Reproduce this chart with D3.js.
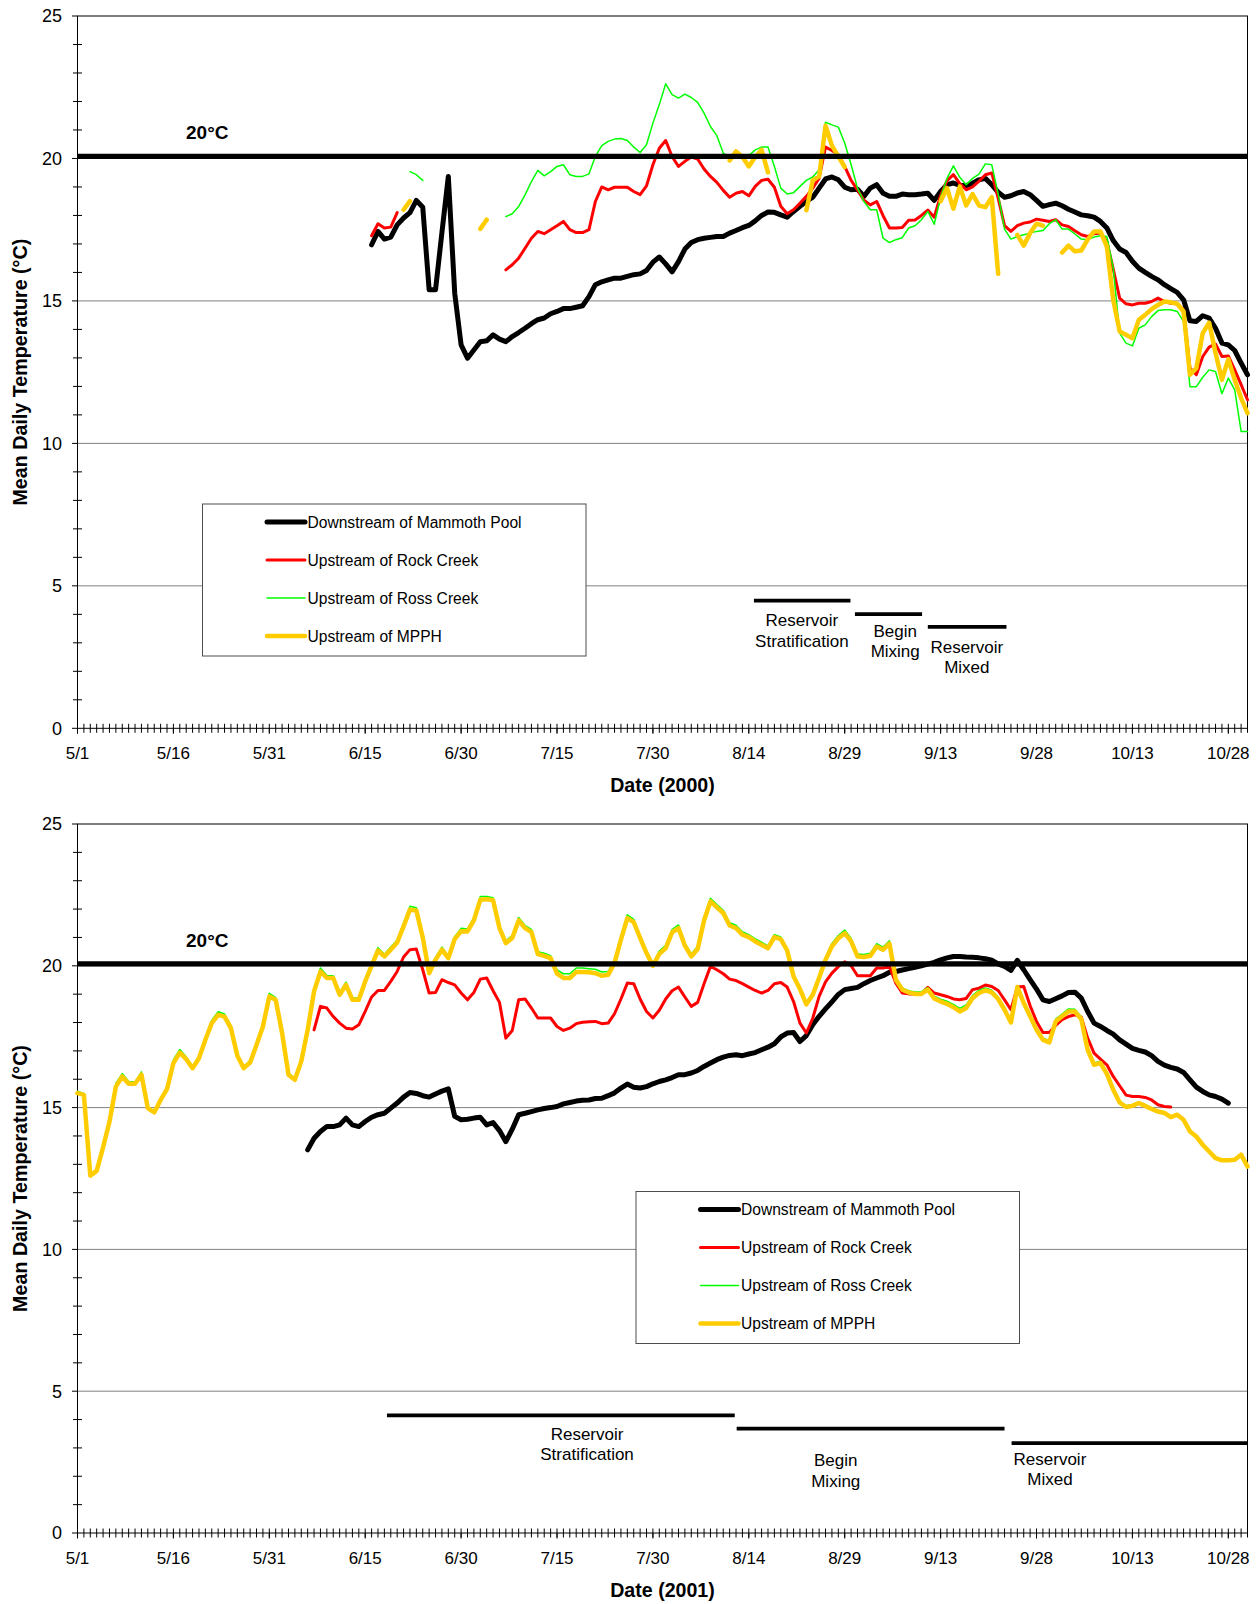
<!DOCTYPE html>
<html>
<head>
<meta charset="utf-8">
<script src="https://cdn.jsdelivr.net/npm/d3@7"></script>
<style>
  body { margin: 0; background: #fff; }
  svg { display: block; }
  text { font-family: "Liberation Sans", Arial, sans-serif; fill: #000; }
</style>
</head>
<body>
<svg id="chart" width="1260" height="1604"></svg>
<script>
// ---------------------------------------------------------------------------
// Mean daily water temperature, San Joaquin River reach, 2000 and 2001.
// Each series is a list of runs: [first date, daily values]. Gaps between
// runs are days with no record.
// ---------------------------------------------------------------------------

const SERIES_NAMES = ["Downstream of Mammoth Pool", "Upstream of Rock Creek",
                      "Upstream of Ross Creek", "Upstream of MPPH"];
const X_TICK_LABELS = ["5/1", "5/16", "5/31", "6/15", "6/30", "7/15", "7/30",
                       "8/14", "8/29", "9/13", "9/28", "10/13", "10/28"];
const Y_TICKS = [0, 5, 10, 15, 20, 25];
const THRESHOLD = 20.07;
const THRESHOLD_LABEL = "20°C";
const PHASE_NAMES = [["Reservoir", "Stratification"], ["Begin", "Mixing"], ["Reservoir", "Mixed"]];

// ---- 2000 ----
const mammoth2000 = [
  ["2000-06-16", [16.97, 17.44, 17.17, 17.24, 17.67, 17.91, 18.10, 18.53, 18.29, 15.39,
    15.39, 17.4, 19.37, 15.27, 13.46, 12.99, 13.28, 13.57, 13.6, 13.81,
    13.66, 13.57, 13.75, 13.89, 14.04, 14.2, 14.34, 14.4, 14.55, 14.63,
    14.73, 14.73, 14.78, 14.83, 15.15, 15.57, 15.67, 15.74, 15.8, 15.8,
    15.86, 15.92, 15.95, 16.07, 16.36, 16.54, 16.3, 16.02, 16.38, 16.82,
    17.05, 17.15, 17.2, 17.23, 17.26, 17.26, 17.38, 17.47, 17.57, 17.65,
    17.81, 18.0, 18.12, 18.11, 18.02, 17.94, 18.14, 18.32, 18.49, 18.64,
    18.96, 19.28, 19.35, 19.25, 18.99, 18.9, 18.92, 18.67, 18.96, 19.08,
    18.78, 18.67, 18.67, 18.75, 18.73, 18.73, 18.75, 18.78, 18.53, 18.84,
    19.08, 19.14, 19.05, 19.05, 19.13, 19.25, 19.3, 19.08, 18.81, 18.64,
    18.69, 18.79, 18.84, 18.73, 18.53, 18.32, 18.38, 18.43, 18.34, 18.22,
    18.12, 18.02, 17.99, 17.94, 17.79, 17.56, 17.12, 16.82, 16.7, 16.39,
    16.15, 16.0, 15.86, 15.74, 15.57, 15.43, 15.3, 15.04, 14.3, 14.28,
    14.48, 14.4, 14.04, 13.52, 13.46, 13.26, 12.82, 12.41]]
];
const rock2000 = [
  ["2000-06-16", [17.29, 17.71, 17.56, 17.59, 18.1]],
  ["2000-07-07", [16.09, 16.27, 16.5, 16.85, 17.2, 17.44, 17.36, 17.5, 17.64, 17.79,
    17.5, 17.4, 17.4, 17.5, 18.49, 19.0, 18.9, 18.99, 18.99, 18.99,
    18.84, 18.73, 19.04, 19.78, 20.36, 20.63, 20.07, 19.72, 19.9, 20.05,
    19.98, 19.63, 19.37, 19.16, 18.88, 18.64, 18.78, 18.84, 18.69, 19.02,
    19.23, 19.27, 18.99, 18.32, 18.06, 18.2, 18.43, 18.67, 18.96, 19.31,
    20.4, 20.28, 20.13, 19.72, 19.23, 18.9, 18.53, 18.37, 18.49, 17.99,
    17.56, 17.56, 17.58, 17.83, 17.84, 18.0, 18.19, 17.94, 18.7, 19.22,
    19.43, 19.12, 18.9, 19.0, 19.2, 19.43, 19.49, 18.61, 17.64, 17.44,
    17.64, 17.73, 17.77, 17.87, 17.83, 17.79, 17.85, 17.67, 17.61, 17.46,
    17.32, 17.26, 17.36, 17.38, 17.09, 16.12, 15.1, 14.9, 14.86, 14.92,
    14.92, 14.98, 15.1, 14.98, 14.92, 14.9, 14.69, 12.64, 12.41, 13.05,
    13.38, 13.49, 13.05, 13.07, 12.58, 12.06, 11.53]]
];
const ross2000 = [
  ["2000-06-22", [19.54, 19.43, 19.23]],
  ["2000-07-07", [17.96, 18.06, 18.31, 18.72, 19.19, 19.58, 19.39, 19.54, 19.72, 19.78,
    19.43, 19.37, 19.37, 19.46, 20.07, 20.45, 20.6, 20.68, 20.7, 20.63,
    20.4, 20.21, 20.48, 21.24, 21.89, 22.62, 22.24, 22.12, 22.26, 22.14,
    21.97, 21.59, 21.12, 20.8, 20.19, 20.05, 20.05, 20.0, 20.1, 20.3,
    20.4, 20.4, 19.72, 18.96, 18.75, 18.8, 19.02, 19.23, 19.35, 19.6,
    21.27, 21.18, 21.1, 20.54, 19.78, 18.96, 18.49, 18.2, 18.2, 17.2,
    17.05, 17.15, 17.22, 17.56, 17.64, 17.85, 18.14, 17.69, 18.64, 19.3,
    19.74, 19.34, 19.08, 19.3, 19.45, 19.81, 19.78, 18.76, 17.52, 17.17,
    17.26, 17.32, 17.38, 17.44, 17.47, 17.71, 17.85, 17.52, 17.52, 17.35,
    17.17, 17.15, 17.24, 17.29, 17.26, 16.15, 13.87, 13.52, 13.42, 14.04,
    14.16, 14.45, 14.66, 14.69, 14.69, 14.63, 14.28, 11.99, 11.99, 12.32,
    12.58, 12.52, 11.74, 12.29, 11.88, 10.42, 10.42]]
];
const mpph2000 = [
  ["2000-06-21", [18.2, 18.5]],
  ["2000-07-03", [17.53, 17.85]],
  ["2000-08-11", [19.93, 20.25, 20.05, 19.72, 20.05, 20.3, 19.51]],
  ["2000-08-23", [18.18, 19.23, 19.37, 21.15, 20.45, 20.07, 19.7]],
  ["2000-09-13", [18.5, 18.96, 18.24, 19.02, 18.35, 18.75, 18.35, 18.29, 18.64, 15.95]],
  ["2000-09-25", [17.32, 16.94, 17.38, 17.71, 17.64]],
  ["2000-10-02", [16.7, 16.94, 16.74, 16.77, 17.15, 17.44, 17.44, 16.91, 15.04, 13.93,
    13.81, 13.69, 14.34, 14.51, 14.71, 14.86, 14.98, 14.95, 14.9, 14.63,
    12.41, 12.64, 13.87, 14.24, 13.17, 12.23, 12.96, 12.23, 11.59, 11.06]]
];
// Reservoir phases: [first day, last day (days after 5/1), level °C]
const phases2000 = [[105.8, 120.9, 4.48], [121.6, 132.1, 4.01], [133.0, 145.3, 3.56]];
// Phase caption anchors: [day, level of first text line]
const phaseLabels2000 = [[113.3, 3.59], [127.9, 3.22], [139.1, 2.65]];

// ---- 2001 ----
const mammoth2001 = [
  ["2001-06-06", [13.51, 13.92, 14.16, 14.33, 14.33, 14.39, 14.63, 14.39, 14.33, 14.51,
    14.66, 14.75, 14.8, 14.98, 15.16, 15.37, 15.53, 15.5, 15.42, 15.37,
    15.48, 15.58, 15.66, 14.69, 14.57, 14.59, 14.63, 14.66, 14.39, 14.47,
    14.19, 13.8, 14.24, 14.75, 14.8, 14.86, 14.92, 14.97, 15.0, 15.04,
    15.13, 15.18, 15.23, 15.26, 15.27, 15.32, 15.33, 15.42, 15.52, 15.69,
    15.83, 15.72, 15.69, 15.74, 15.84, 15.92, 15.98, 16.06, 16.16, 16.16,
    16.22, 16.31, 16.45, 16.57, 16.69, 16.78, 16.84, 16.86, 16.83, 16.89,
    16.94, 17.04, 17.13, 17.25, 17.49, 17.63, 17.65, 17.33, 17.54, 17.92,
    18.22, 18.48, 18.73, 18.99, 19.16, 19.2, 19.24, 19.37, 19.48, 19.57,
    19.65, 19.77, 19.8, 19.85, 19.9, 19.95, 20.0, 20.06, 20.12, 20.21,
    20.28, 20.33, 20.33, 20.31, 20.3, 20.28, 20.25, 20.2, 20.07, 19.98,
    19.84, 20.19, 19.86, 19.51, 19.18, 18.8, 18.74, 18.84, 18.94, 19.06,
    19.07, 18.86, 18.39, 17.98, 17.86, 17.72, 17.59, 17.39, 17.24, 17.09,
    17.02, 16.96, 16.83, 16.63, 16.5, 16.42, 16.36, 16.24, 15.98, 15.72,
    15.57, 15.45, 15.39, 15.3, 15.16]]
];
const rock2001 = [
  ["2001-06-07", [17.74, 18.57, 18.51, 18.21, 17.98, 17.8, 17.77, 17.92, 18.39, 18.9,
    19.13, 19.13, 19.45, 19.8, 20.31, 20.57, 20.59, 19.86, 19.04, 19.06,
    19.51, 19.41, 19.33, 19.04, 18.8, 19.06, 19.53, 19.57, 19.12, 18.71,
    17.45, 17.72, 18.8, 18.83, 18.51, 18.16, 18.16, 18.16, 17.86, 17.72,
    17.8, 17.96, 18.01, 18.03, 18.04, 17.96, 17.98, 18.31, 18.83, 19.39,
    19.37, 18.83, 18.39, 18.16, 18.43, 18.83, 19.12, 19.25, 18.9, 18.57,
    18.71, 19.37, 19.98, 19.86, 19.72, 19.53, 19.48, 19.37, 19.25, 19.13,
    19.04, 19.13, 19.37, 19.41, 19.25, 18.74, 17.98, 17.63, 18.15, 18.92,
    19.43, 19.74, 19.97, 20.14, 20.0, 19.65, 19.65, 19.65, 19.92, 19.92,
    19.98, 19.39, 19.04, 19.01, 19.01, 19.01, 19.24, 19.04, 18.98, 18.92,
    18.83, 18.8, 18.85, 19.16, 19.21, 19.32, 19.27, 19.13, 18.8, 18.45,
    19.25, 19.27, 18.59, 18.04, 17.65, 17.65, 17.9, 18.1, 18.21, 18.27,
    18.19, 17.45, 16.92, 16.71, 16.51, 16.1, 15.77, 15.44, 15.39, 15.39,
    15.36, 15.27, 15.1, 15.04, 15.02]]
];
const ross2001 = [
  ["2001-05-01", [15.58, 15.5, 12.65, 12.82, 13.68, 14.6, 15.85, 16.2, 15.92, 15.9,
    16.26, 15.03, 14.87, 15.33, 15.74, 16.68, 17.05, 16.79, 16.45, 16.82,
    17.48, 18.08, 18.38, 18.3, 17.88, 16.9, 16.45, 16.66, 17.3, 17.95,
    19.03, 18.88, 17.7, 16.22, 16.04, 16.7, 17.82, 19.2, 19.92, 19.66,
    19.65, 19.05, 19.42, 18.87, 18.86, 19.53, 20.1, 20.64, 20.41, 20.66,
    20.91, 21.5, 22.1, 22.05, 21.08, 19.82, 20.3, 20.66, 20.35, 21.03,
    21.32, 21.3, 21.7, 22.44, 22.44, 22.4, 21.41, 20.88, 21.07, 21.7,
    21.42, 21.28, 20.5, 20.44, 20.36, 19.86, 19.72, 19.72, 19.92, 19.92,
    19.9, 19.88, 19.78, 19.8, 20.2, 21.02, 21.8, 21.64, 21.06, 20.53,
    20.08, 20.52, 20.72, 21.28, 21.44, 20.8, 20.42, 20.68, 21.7, 22.38,
    22.16, 21.96, 21.52, 21.43, 21.2, 21.1, 20.95, 20.83, 20.7, 21.1,
    21.02, 20.62, 19.7, 19.25, 18.7, 19.05, 19.66, 20.3, 20.79, 21.07,
    21.26, 20.96, 20.42, 20.4, 20.44, 20.78, 20.66, 20.88, 19.58, 19.22,
    19.12, 19.08, 19.08, 19.23, 18.93, 18.82, 18.75, 18.64, 18.5, 18.62,
    18.96, 19.13, 19.22, 19.14, 18.9, 18.52, 18.06, 19.3, 18.76, 18.28,
    17.8, 17.45, 17.37, 18.12, 18.3, 18.48, 18.47, 18.2, 17.12, 16.58,
    16.63, 16.25, 15.7, 15.24, 15.07, 15.11, 15.2, 15.1, 14.99, 14.9,
    14.85, 14.7]]
];
const mpph2001 = [
  ["2001-05-01", [15.51, 15.45, 12.6, 12.77, 13.6, 14.5, 15.74, 16.1, 15.84, 15.84,
    16.16, 14.98, 14.83, 15.27, 15.65, 16.57, 16.94, 16.71, 16.39, 16.74,
    17.39, 17.98, 18.27, 18.21, 17.8, 16.83, 16.39, 16.59, 17.21, 17.86,
    18.92, 18.8, 17.63, 16.16, 15.98, 16.63, 17.74, 19.1, 19.8, 19.57,
    19.57, 18.98, 19.33, 18.8, 18.8, 19.45, 20.0, 20.54, 20.33, 20.57,
    20.82, 21.39, 21.98, 21.95, 21.0, 19.74, 20.21, 20.57, 20.27, 20.94,
    21.22, 21.21, 21.6, 22.33, 22.35, 22.31, 21.33, 20.8, 20.98, 21.6,
    21.33, 21.19, 20.41, 20.35, 20.27, 19.72, 19.57, 19.57, 19.78, 19.78,
    19.77, 19.74, 19.65, 19.68, 20.1, 20.92, 21.68, 21.54, 20.98, 20.45,
    20.0, 20.42, 20.62, 21.18, 21.33, 20.71, 20.33, 20.59, 21.6, 22.27,
    22.06, 21.86, 21.42, 21.33, 21.1, 21.01, 20.86, 20.74, 20.62, 21.01,
    20.94, 20.54, 19.62, 19.18, 18.64, 18.98, 19.58, 20.21, 20.69, 20.97,
    21.15, 20.86, 20.33, 20.31, 20.35, 20.68, 20.57, 20.78, 19.51, 19.16,
    19.06, 19.01, 19.01, 19.16, 18.85, 18.74, 18.66, 18.54, 18.39, 18.51,
    18.86, 19.04, 19.13, 19.06, 18.83, 18.45, 18.0, 19.25, 18.69, 18.22,
    17.74, 17.39, 17.3, 18.04, 18.22, 18.39, 18.39, 18.12, 17.04, 16.51,
    16.57, 16.19, 15.63, 15.18, 15.02, 15.06, 15.16, 15.06, 14.95, 14.86,
    14.81, 14.66, 14.75, 14.57, 14.16, 13.98, 13.69, 13.45, 13.22, 13.14,
    13.14, 13.16, 13.34, 12.92]]
];
const phases2001 = [[48.4, 102.8, 4.15], [103.1, 145.0, 3.68], [146.1, 183.0, 3.17]];
const phaseLabels2001 = [[79.7, 3.28], [118.6, 2.36], [152.1, 2.40]];

// ---------------------------------------------------------------------------
// Layout and styling
// ---------------------------------------------------------------------------
const STYLES = [
  { color: "#000000", width: 5 },
  { color: "#ff0000", width: 3 },
  { color: "#00ff00", width: 1.5 },
  { color: "#ffcc00", width: 4.5 }
];

const PANELS = [
  { year: 2000, top: 16, bottom: 728.3,
    series: [mammoth2000, rock2000, ross2000, mpph2000],
    phases: phases2000, phaseLabels: phaseLabels2000,
    legend: { x: 202.5, y: 504 } },
  { year: 2001, top: 824, bottom: 1533,
    series: [mammoth2001, rock2001, ross2001, mpph2001],
    phases: phases2001, phaseLabels: phaseLabels2001,
    legend: { x: 636, y: 1191.5 } }
];

const PLOT_LEFT = 77.5, PLOT_RIGHT = 1247.5;

const svg = d3.select("#chart");
svg.append("rect").attr("width", 1260).attr("height", 1604).attr("fill", "#fff");

const parse = d3.utcParse("%Y-%m-%d");

function toPoints(runs) {
  const pts = [];
  runs.forEach(([first, values]) => {
    const d0 = parse(first);
    values.forEach((v, i) => pts.push({ date: d3.utcDay.offset(d0, i), v }));
    pts.push({ date: null, v: null });
  });
  return pts;
}

PANELS.forEach(panel => {
  const start = new Date(Date.UTC(panel.year, 4, 1));
  const end = new Date(Date.UTC(panel.year, 9, 31));
  const x = d3.scaleUtc().domain([start, end]).range([PLOT_LEFT, PLOT_RIGHT]);
  const y = d3.scaleLinear().domain([0, 25]).range([panel.bottom, panel.top]);
  const dayX = d => x(start) + (x(d3.utcDay.offset(start, 1)) - x(start)) * d;

  const g = svg.append("g");

  // horizontal gridlines
  g.append("g").selectAll("line").data(Y_TICKS.filter(t => t > 0 && t < 25)).join("line")
    .attr("x1", PLOT_LEFT).attr("x2", PLOT_RIGHT)
    .attr("y1", d => y(d)).attr("y2", d => y(d))
    .attr("stroke", "#808080").attr("stroke-width", 1);

  // plot frame
  g.append("rect")
    .attr("x", PLOT_LEFT).attr("y", panel.top)
    .attr("width", PLOT_RIGHT - PLOT_LEFT).attr("height", panel.bottom - panel.top)
    .attr("fill", "none").attr("stroke", "#000").attr("stroke-width", 1);

  // y axis: major ticks outward every 5, minor ticks crossing every 1
  const yAxis = g.append("g");
  yAxis.selectAll(".minor").data(d3.range(0, 26).filter(v => v % 5 !== 0)).join("line")
    .attr("x1", PLOT_LEFT - 4.5).attr("x2", PLOT_LEFT + 4.5)
    .attr("y1", d => y(d)).attr("y2", d => y(d))
    .attr("stroke", "#000").attr("stroke-width", 1);
  yAxis.selectAll(".major").data(Y_TICKS).join("line")
    .attr("x1", PLOT_LEFT - 5.5).attr("x2", PLOT_LEFT)
    .attr("y1", d => y(d)).attr("y2", d => y(d))
    .attr("stroke", "#000").attr("stroke-width", 1);
  yAxis.selectAll("text").data(Y_TICKS).join("text")
    .attr("x", PLOT_LEFT - 15.5).attr("y", d => y(d)).attr("dy", "0.36em")
    .attr("text-anchor", "end").attr("font-size", 18).text(d => d);

  // x axis: daily minor ticks, major ticks every 15 days
  const days = d3.utcDay.range(start, d3.utcDay.offset(end, 1));
  const xAxis = g.append("g");
  xAxis.selectAll(".minor").data(days).join("line")
    .attr("x1", d => x(d)).attr("x2", d => x(d))
    .attr("y1", panel.bottom - 4.5).attr("y2", panel.bottom + 4.5)
    .attr("stroke", "#000").attr("stroke-width", 1);
  const majors = X_TICK_LABELS.map((lab, i) => ({ lab, date: d3.utcDay.offset(start, 15 * i) }));
  xAxis.selectAll(".major").data(majors).join("line")
    .attr("x1", d => x(d.date)).attr("x2", d => x(d.date))
    .attr("y1", panel.bottom).attr("y2", panel.bottom + 5.5)
    .attr("stroke", "#000").attr("stroke-width", 1);
  xAxis.selectAll("text").data(majors).join("text")
    .attr("x", d => x(d.date)).attr("y", panel.bottom + 31)
    .attr("text-anchor", "middle").attr("font-size", 17).text(d => d.lab);

  // axis titles
  g.append("text")
    .attr("x", (PLOT_LEFT + PLOT_RIGHT) / 2).attr("y", panel.bottom + 64)
    .attr("text-anchor", "middle").attr("font-size", 19.6).attr("font-weight", "bold")
    .text(`Date (${panel.year})`);
  g.append("text")
    .attr("transform", `translate(27,${(panel.top + panel.bottom) / 2}) rotate(-90)`)
    .attr("text-anchor", "middle").attr("font-size", 19.7).attr("font-weight", "bold")
    .text("Mean Daily Temperature (°C)");

  // series
  const line = d3.line()
    .defined(d => d.v != null)
    .x(d => x(d.date)).y(d => y(d.v));
  panel.series.forEach((runs, i) => {
    g.append("path")
      .datum(toPoints(runs))
      .attr("d", line)
      .attr("fill", "none")
      .attr("stroke", STYLES[i].color)
      .attr("stroke-width", STYLES[i].width)
      .attr("stroke-linejoin", "round")
      .attr("stroke-linecap", "round");
  });

  // 20 °C reference line
  g.append("line")
    .attr("x1", PLOT_LEFT).attr("x2", PLOT_RIGHT)
    .attr("y1", y(THRESHOLD)).attr("y2", y(THRESHOLD))
    .attr("stroke", "#000").attr("stroke-width", 5.3);
  g.append("text")
    .attr("x", dayX(20.3)).attr("y", y(THRESHOLD) - 17)
    .attr("text-anchor", "middle").attr("font-size", 19).attr("font-weight", "bold")
    .text(THRESHOLD_LABEL);

  // reservoir phase bars and captions
  panel.phases.forEach(([d0, d1, level], i) => {
    g.append("line")
      .attr("x1", dayX(d0)).attr("x2", dayX(d1))
      .attr("y1", y(level)).attr("y2", y(level))
      .attr("stroke", "#000").attr("stroke-width", 3.7);
    const [ld, lv] = panel.phaseLabels[i];
    const t = g.append("text")
      .attr("text-anchor", "middle").attr("font-size", 17);
    PHASE_NAMES[i].forEach((s, k) => {
      t.append("tspan").attr("x", dayX(ld)).attr("y", y(lv) + k * 20.5).text(s);
    });
  });

  // legend
  const lg = g.append("g").attr("transform", `translate(${panel.legend.x},${panel.legend.y})`);
  lg.append("rect").attr("width", 383.5).attr("height", 152)
    .attr("fill", "#fff").attr("stroke", "#4d4d4d").attr("stroke-width", 1);
  SERIES_NAMES.forEach((name, i) => {
    const ry = 18 + i * 38;
    lg.append("line").attr("x1", 64.5).attr("x2", 102.5).attr("y1", ry).attr("y2", ry)
      .attr("stroke", STYLES[i].color).attr("stroke-width", STYLES[i].width)
      .attr("stroke-linecap", "round");
    lg.append("text").attr("x", 105).attr("y", ry + 5.8)
      .attr("font-size", 15.6).text(name);
  });
});
</script>
</body>
</html>
